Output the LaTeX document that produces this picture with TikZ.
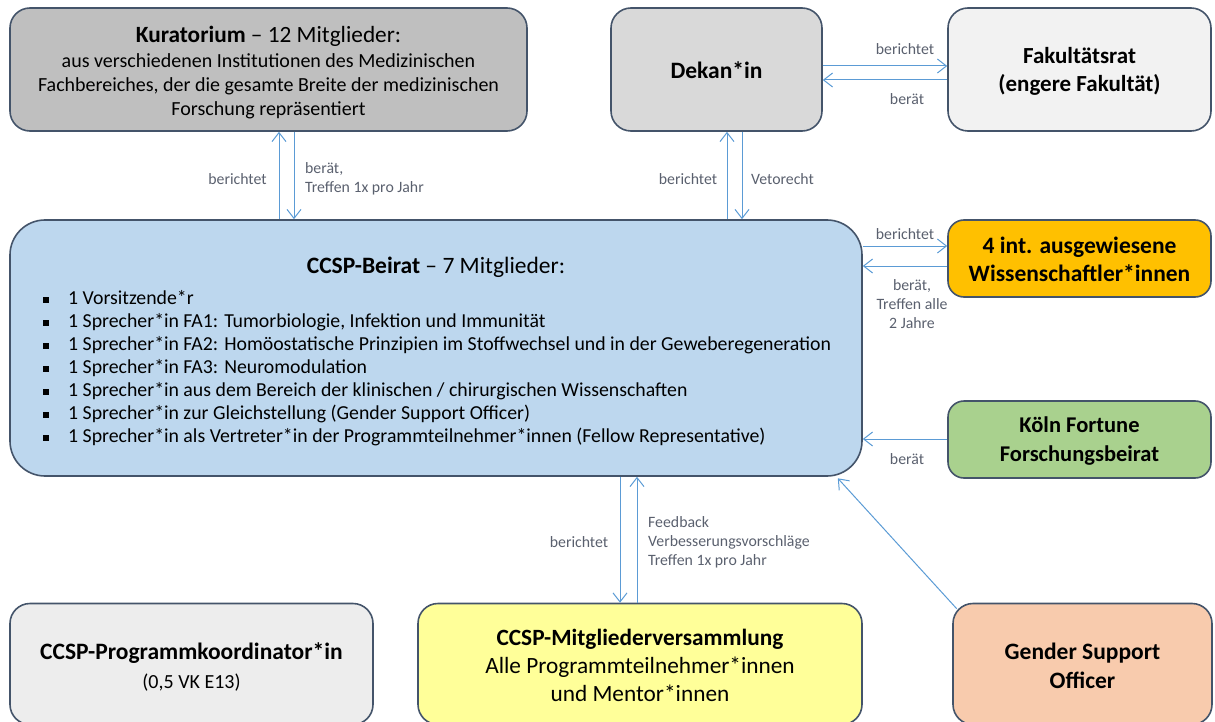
\documentclass[tikz,border=0pt]{standalone}
\usepackage{fontspec}
\setmainfont{Carlito}
\usetikzlibrary{arrows.meta,calc}
\definecolor{bordc}{HTML}{44546A}
\definecolor{arrc}{HTML}{5B9BD5}
\definecolor{labc}{HTML}{5A606E}
\definecolor{kurf}{HTML}{BFBFBF}
\definecolor{dekf}{HTML}{D9D9D9}
\definecolor{fakf}{HTML}{F2F2F2}
\definecolor{beif}{HTML}{BDD7EE}
\definecolor{wisf}{HTML}{FFC000}
\definecolor{kolf}{HTML}{A9D18E}
\definecolor{prof}{HTML}{EDEDED}
\definecolor{mitf}{HTML}{FFFF99}
\definecolor{genf}{HTML}{F8CBAD}
\newcommand\sqbul{\makebox[25pt][l]{\raisebox{1.5pt}{\rule{6pt}{6pt}}}}
\begin{document}
\begin{tikzpicture}[x=1pt,y=-1pt,
  box/.style={draw=bordc, line width=1.6pt, rounded corners=20pt, inner sep=0pt},
  txt/.style={inner sep=0pt, align=center, text=black},
  bigf/.style={font=\fontsize{23.5}{28}\selectfont},
  lab/.style={text=labc, font=\fontsize{15.8}{19}\selectfont, inner sep=0pt},
  arr/.style={draw=arrc, line width=1pt, -{Straight Barb[length=9pt,width=14pt]}}
]
\useasboundingbox (0,0) rectangle (1215,722);
\clip (0,0) rectangle (1215,722);

% boxes
\node[box, fill=kurf, minimum width=517pt, minimum height=123pt] (kur) at (268.5,69.5) {};
\node[box, fill=dekf, minimum width=211pt, minimum height=123pt] (dek) at (716.5,69.5) {};
\node[box, fill=fakf, minimum width=263pt, minimum height=123pt] (fak) at (1079.5,69.5) {};
\node[box, fill=beif, rounded corners=35pt, minimum width=852pt, minimum height=256pt] (bei) at (436,348) {};
\node[box, fill=wisf, rounded corners=16pt, minimum width=263pt, minimum height=77pt] (wis) at (1079.5,258.5) {};
\node[box, fill=kolf, rounded corners=16pt, minimum width=263pt, minimum height=77pt] (kol) at (1079.5,439.5) {};
\node[box, fill=prof, minimum width=363pt, minimum height=121pt] (pro) at (191.5,664) {};
\node[box, fill=mitf, minimum width=444pt, minimum height=121pt] (mit) at (640,664) {};
\node[box, fill=genf, minimum width=259pt, minimum height=121pt] (gen) at (1082.5,664) {};

% box texts
\node[txt, font=\fontsize{20}{24}\selectfont] (kurT) at (268.5,72.5)
  {{\fontsize{23.3}{27}\selectfont\textbf{Kuratorium} – 12 Mitglieder:}\\[1pt]
   aus verschiedenen Institutionen des Medizinischen\\
   Fachbereiches, der die gesamte Breite der medizinischen\\
   Forschung repräsentiert};
\node[txt, bigf] (dekT) at (716.5,70) {\textbf{Dekan*in}};
\node[txt, font=\fontsize{23}{28}\selectfont] (fakT) at (1079.5,71.5) {\textbf{Fakultätsrat}\\\textbf{(engere Fakultät)}};
\node[txt, bigf] (beiT) at (436,267) {\textbf{CCSP-Beirat} – 7 Mitglieder:};
\node[inner sep=0pt, anchor=west, align=left, font=\fontsize{19.8}{23.1}\selectfont] (beiL) at (43,368)
  {\sqbul 1 Vorsitzende*r\\
   \sqbul 1 Sprecher*in FA1: Tumorbiologie, Infektion und Immunität\\
   \sqbul 1 Sprecher*in FA2: Homöostatische Prinzipien im Stoffwechsel und in der Geweberegeneration\\
   \sqbul 1 Sprecher*in FA3: Neuromodulation\\
   \sqbul 1 Sprecher*in aus dem Bereich der klinischen / chirurgischen Wissenschaften\\
   \sqbul 1 Sprecher*in zur Gleichstellung (Gender Support Officer)\\
   \sqbul 1 Sprecher*in als Vertreter*in der Programmteilnehmer*innen (Fellow Representative)};
\node[txt, bigf] (wisT) at (1079.5,259) {\textbf{4 int. ausgewiesene}\\\textbf{Wissenschaftler*innen}};
\node[txt, font=\fontsize{22.5}{29}\selectfont] (kolT) at (1079.5,441) {\textbf{Köln Fortune}\\\textbf{Forschungsbeirat}};
\node[txt, font=\fontsize{20}{29}\selectfont] (proT) at (191.5,667) {{\fontsize{23.5}{29}\selectfont\textbf{CCSP-Programmkoordinator*in}}\\(0,5 VK E13)};
\node[txt, font=\fontsize{23.3}{28}\selectfont] (mitT) at (640,665) {\textbf{CCSP-Mitgliederversammlung}\\Alle Programmteilnehmer*innen\\und Mentor*innen};
\node[txt, font=\fontsize{23.5}{29}\selectfont] (genT) at (1082.5,665.5) {\textbf{Gender Support}\\\textbf{Officer}};

% connector positions
\coordinate (xk1) at (279,0);
\coordinate (xk2) at (294,0);
\coordinate (xd1) at (727,0);
\coordinate (xd2) at (742,0);
\coordinate (xm1) at (620,0);
\coordinate (xm2) at (637,0);
\coordinate (yf1) at (0,66);
\coordinate (yf2) at (0,80);
\coordinate (yw1) at (0,246);
\coordinate (yw2) at (0,266);
\coordinate (yk) at (0,439);
\coordinate (gs) at ($(gen.north west)+(4.5,6)$);
\coordinate (ge) at ($(bei.south east)+(-25,1.5)$);

\draw[arr] (xk1 |- bei.north) -- (xk1 |- kur.south);
\draw[arr] (xk2 |- kur.south) -- (xk2 |- bei.north);
\draw[arr] (xd1 |- bei.north) -- (xd1 |- dek.south);
\draw[arr] (xd2 |- dek.south) -- (xd2 |- bei.north);
\draw[arr] (dek.east |- yf1) -- (fak.west |- yf1);
\draw[arr] (fak.west |- yf2) -- (dek.east |- yf2);
\draw[arr] (bei.east |- yw1) -- (wis.west |- yw1);
\draw[arr] (wis.west |- yw2) -- (bei.east |- yw2);
\draw[arr] (kol.west |- yk) -- (bei.east |- yk);
\draw[arr] (xm1 |- bei.south) -- (xm1 |- mit.north);
\draw[arr] (xm2 |- mit.north) -- (xm2 |- bei.south);
\draw[arr] (gs) -- (ge);

% labels
\node[lab] (l1) at (237.5,179) {berichtet};
\node[lab, anchor=west, align=left] (l2) at (305,178.5) {berät,\\Treffen 1x pro Jahr};
\node[lab] (l3) at (688,179) {berichtet};
\node[lab, anchor=west] (l4) at (751,179) {Vetorecht};
\node[lab] (l5) at (905,49) {berichtet};
\node[lab] (l6) at (907,99) {berät};
\node[lab] (l7) at (905,234) {berichtet};
\node[lab, align=center] (l8) at (912,304) {berät,\\Treffen alle\\2 Jahre};
\node[lab] (l9) at (907,459) {berät};
\node[lab] (l10) at (579,542) {berichtet};
\node[lab, anchor=west, align=left] (l11) at (648,542) {Feedback\\Verbesserungsvorschläge\\Treffen 1x pro Jahr};
\end{tikzpicture}
\end{document}
